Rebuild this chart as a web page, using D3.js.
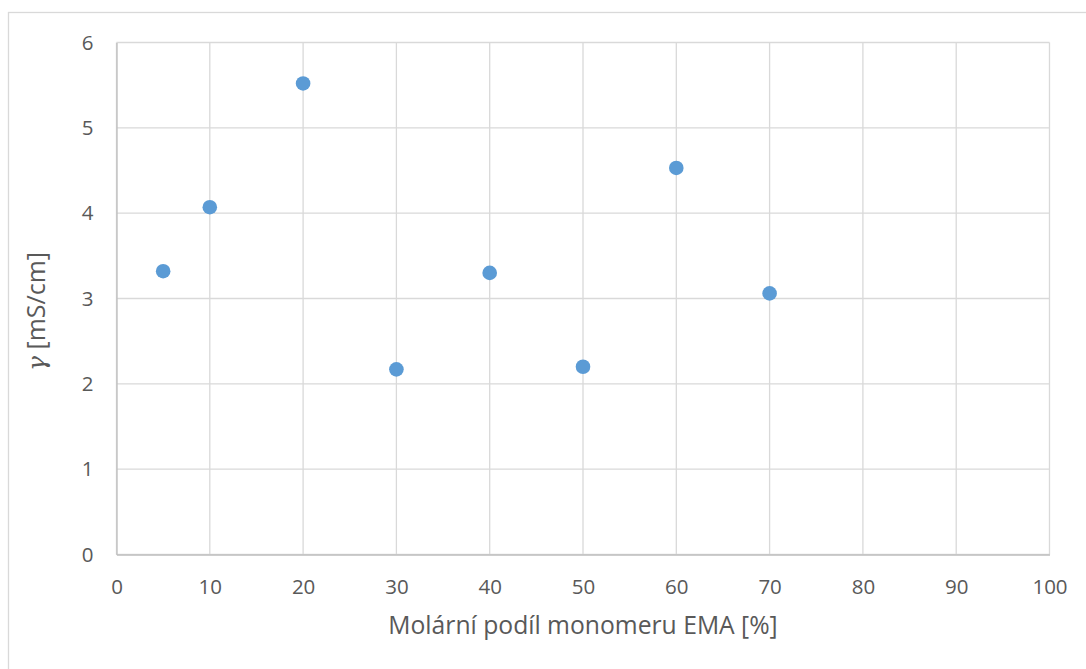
<!DOCTYPE html>
<html>
<head>
<meta charset="utf-8">
<script src="https://cdn.jsdelivr.net/npm/d3@7"></script>
<style>
html,body{margin:0;padding:0;background:#fff;}
svg{display:block;}
text{font-family:"Open Sans",sans-serif;fill:#595959;}
</style>
</head>
<body>
<svg id="chart" width="1086" height="669"></svg>
<script>
const xValues = [5, 10, 20, 30, 40, 50, 60, 70];
const yValues = [3.32, 4.07, 5.52, 2.17, 3.30, 2.20, 4.53, 3.06];
const xTicks = [0, 10, 20, 30, 40, 50, 60, 70, 80, 90, 100];
const yTicks = [0, 1, 2, 3, 4, 5, 6];
const xTitle = "Molární podíl monomeru EMA [%]";
const yTitleSymbol = "γ";
const yTitleUnit = " [mS/cm]";

const svg = d3.select("#chart");
const pL = 116.5, pR = 1049.5, pT = 42.5, pB = 554.5;

svg.append("rect").attr("x", 8.5).attr("y", 12.5).attr("width", 1100).attr("height", 700)
  .attr("fill", "none").attr("stroke", "#d9d9d9").attr("stroke-width", 1.3);

const x = d3.scaleLinear().domain([0, 100]).range([pL, pR]);
const y = d3.scaleLinear().domain([0, 6]).range([pB, pT]);

const grid = svg.append("g");
grid.selectAll("line.v").data(xTicks).join("line")
  .attr("x1", d => x(d)).attr("x2", d => x(d)).attr("y1", pT).attr("y2", pB)
  .attr("stroke", "#d9d9d9").attr("stroke-width", 1.3);
grid.selectAll("line.h").data(yTicks).join("line")
  .attr("x1", pL).attr("x2", pR).attr("y1", d => y(d)).attr("y2", d => y(d))
  .attr("stroke", "#d9d9d9").attr("stroke-width", 1.3);

const xAxis = svg.append("g").attr("transform", `translate(0,${pB})`)
  .call(d3.axisBottom(x).tickValues(xTicks).tickSize(0).tickPadding(32).tickFormat(d3.format("d")));
xAxis.select(".domain").attr("stroke", "#bfbfbf").attr("stroke-width", 1.3);
xAxis.selectAll("text").style("font-size", "20.5px").style("font-family", "'Open Sans',sans-serif").attr("fill", "#595959").attr("dy", "0.35em");

const yAxis = svg.append("g").attr("transform", `translate(${pL},0)`)
  .call(d3.axisLeft(y).tickValues(yTicks).tickSize(0).tickPadding(23).tickFormat(d3.format("d")));
yAxis.select(".domain").attr("stroke", "#bfbfbf").attr("stroke-width", 1.3);
yAxis.selectAll("text").style("font-size", "20.5px").style("font-family", "'Open Sans',sans-serif").attr("fill", "#595959");

svg.append("g").selectAll("circle").data(xValues.map((d, i) => [d, yValues[i]])).join("circle")
  .attr("cx", d => x(d[0])).attr("cy", d => y(d[1])).attr("r", 7.3)
  .attr("fill", "#5b9bd5");

svg.append("text").attr("x", (pL + pR) / 2).attr("y", 634)
  .attr("text-anchor", "middle").style("font-size", "24.7px").text(xTitle);

const yt = svg.append("text").attr("transform", `translate(45,${(pT + pB) / 2 + 13}) rotate(-90)`)
  .attr("text-anchor", "middle").style("font-size", "25px");
yt.append("tspan").style("font-family", "'DejaVu Serif',serif").style("font-style", "italic").text(yTitleSymbol);
yt.append("tspan").text(yTitleUnit);
</script>
</body>
</html>
